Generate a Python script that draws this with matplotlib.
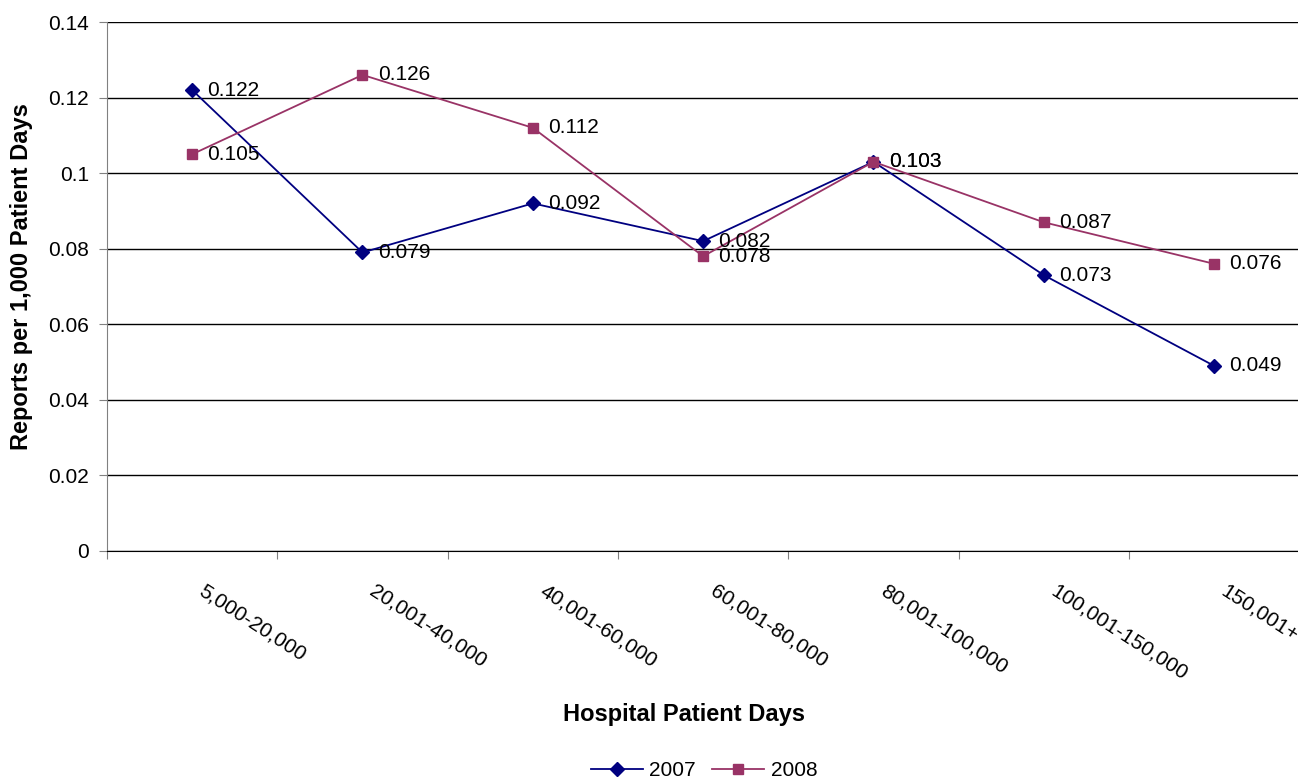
import matplotlib
matplotlib.use("Agg")
import matplotlib.pyplot as plt
from matplotlib.lines import Line2D

plt.rcParams['font.family'] = ['Liberation Sans', 'DejaVu Sans']

# ---------------------------
# data
# ---------------------------
categories = ['5,000-20,000', '20,001-40,000', '40,001-60,000', '60,001-80,000',
              '80,001-100,000', '100,001-150,000', '150,001+']
rate_2007 = [0.122, 0.079, 0.092, 0.082, 0.103, 0.073, 0.049]
rate_2008 = [0.105, 0.126, 0.112, 0.078, 0.103, 0.087, 0.076]
yticks = [0, 0.02, 0.04, 0.06, 0.08, 0.1, 0.12, 0.14]
ytick_labels = ['0', '0.02', '0.04', '0.06', '0.08', '0.1', '0.12', '0.14']

C2007 = '#000080'
C2008 = '#993366'
FS = 15

W, H = 1298, 781
fig = plt.figure(figsize=(W / 100, H / 100), dpi=100)
ax = fig.add_axes([107 / W, 1 - 551 / H, 1 - 107 / W + 0.001, (551 - 22) / H])

x = list(range(len(categories)))
ax.plot(x, rate_2007, color=C2007, lw=1.3, marker='D', ms=7, mfc=C2007, mec=C2007, zorder=3)
ax.plot(x, rate_2008, color=C2008, lw=1.3, marker='s', ms=7.5, mfc=C2008, mec=C2008, zorder=3)

for xi, v in zip(x, rate_2007):
    ax.annotate(f'{v:.3f}', (xi, v), xytext=(11, 0), textcoords='offset points',
                ha='left', va='center', fontsize=FS, color='black', zorder=4)
for xi, v in zip(x, rate_2008):
    ax.annotate(f'{v:.3f}', (xi, v), xytext=(11, 0), textcoords='offset points',
                ha='left', va='center', fontsize=FS, color='black', zorder=4)

ax.set_xlim(-0.5, len(categories) - 0.5)
ax.set_ylim(0, 0.14)
ax.set_yticks(yticks)
ax.set_yticklabels(ytick_labels, fontsize=FS)
ax.yaxis.grid(True, color='black', lw=1.0)
ax.set_axisbelow(True)

# category boundary ticks, labels at the centres
ax.set_xticks([i - 0.5 for i in range(len(categories) + 1)])
ax.set_xticklabels([])
ax.tick_params(axis='x', which='major', length=6, color='#808080', direction='out')
ax.tick_params(axis='y', length=6, color='#808080', direction='out', pad=7)
for xi, name in zip(x, categories):
    ax.annotate(name, (xi, 0), xycoords=('data', 'axes fraction'), xytext=(10, -22),
                textcoords='offset points', rotation=-33, ha='left', va='top',
                rotation_mode='anchor', fontsize=FS, annotation_clip=False)

for s in ['top', 'right']:
    ax.spines[s].set_visible(False)
ax.spines['left'].set_color('#808080')
ax.spines['bottom'].set_color('black')

fig.text(684 / W, 1 - 715 / H, 'Hospital Patient Days', ha='center', va='center',
         fontsize=17, fontweight='bold')
fig.text(22 / W, 1 - 277 / H, 'Reports per 1,000 Patient Days', ha='center', va='center',
         rotation=90, fontsize=17, fontweight='bold')

handles = [Line2D([], [], color=C2007, lw=1.3, marker='D', ms=7),
           Line2D([], [], color=C2008, lw=1.3, marker='s', ms=7.5)]
fig.legend(handles, ['2007', '2008'], loc='center', bbox_to_anchor=(704 / W, 1 - 771 / H),
           ncol=2, frameon=False, fontsize=FS, handlelength=2.5, handletextpad=0.3,
           columnspacing=0.8)

fig.savefig('out.png', dpi=100)
